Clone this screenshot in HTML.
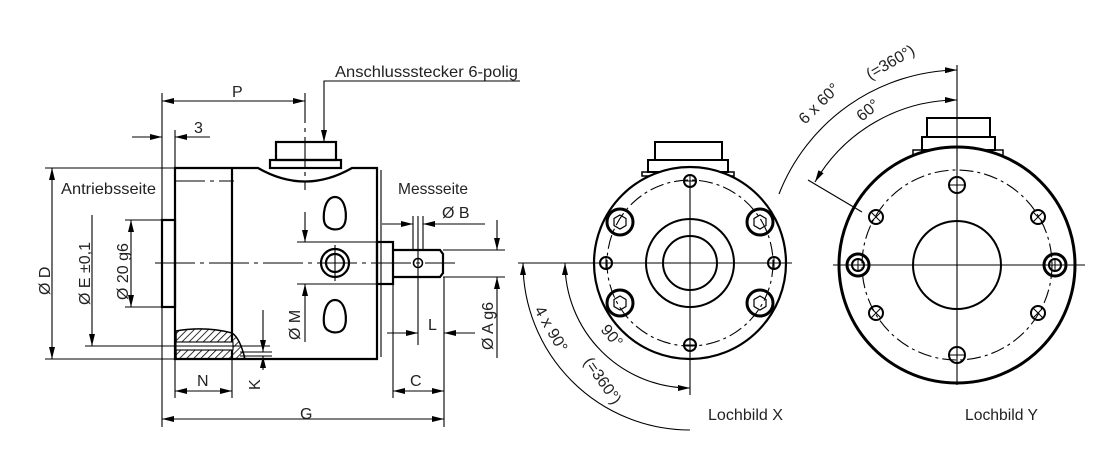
<!DOCTYPE html>
<html><head><meta charset="utf-8"><style>
html,body{margin:0;padding:0;background:#fff;}
svg{display:block;}
text{font-family:"Liberation Sans Narrow","Liberation Sans",sans-serif;font-size:16px;fill:#222;}
</style></head><body>
<svg width="1101" height="458" viewBox="0 0 1101 458" xmlns="http://www.w3.org/2000/svg">
<defs>
<marker id="a" viewBox="0 0 12 6" refX="12" refY="3" markerWidth="12" markerHeight="6" orient="auto-start-reverse" markerUnits="userSpaceOnUse"><path d="M0,0 L12,3 L0,6z" fill="#000"/></marker>
<pattern id="h" width="5" height="5" patternUnits="userSpaceOnUse" patternTransform="rotate(45)"><line x1="0" y1="0" x2="0" y2="5" stroke="#000" stroke-width="1.6"/></pattern>
</defs>
<g stroke="#000" fill="none" stroke-width="1.1">
<g stroke-width="2.2">
<path d="M175,168 L258,168 Q305,195 352,168 L377,168 L377,359 L175,359 Z"/>
<line x1="232" y1="168" x2="232" y2="359"/>
<rect x="162" y="220" width="13" height="87"/>
<rect x="270" y="160" width="71" height="8"/>
<rect x="276" y="142" width="60" height="18"/>
<rect x="377" y="242" width="16" height="42"/>
<path d="M393,250 L440,250 L443,254 L443,273 L440,277 L393,277"/>
<circle cx="335" cy="263" r="14"/>
<circle cx="335" cy="263" r="9"/>
<path d="M335,197 C324,197 322,218 325,224 C328,230 340,232 344,225 C348,218 346,197 335,197Z"/>
<path d="M335,300 C324,300 322,321 325,327 C328,333 340,335 344,328 C348,321 346,300 335,300Z"/>
</g>
<line x1="381" y1="170" x2="381" y2="357"/>
<line x1="175" y1="181" x2="234" y2="181" stroke-dasharray="30,5,4,5"/>
<line x1="155" y1="263" x2="455" y2="263" stroke-dasharray="40,5,4,5"/>
<line x1="305" y1="93" x2="305" y2="190" stroke-dasharray="30,5,4,5"/>
<line x1="335" y1="245" x2="335" y2="281"/>
<line x1="418" y1="216" x2="418" y2="345"/>
<circle cx="418" cy="263" r="4.5" stroke-width="1.6"/>
<path d="M176,331 Q205,326 232,333 Q240,338 245,359 L176,359 Z" fill="url(#h)" stroke="#000" stroke-width="1.5"/>
<rect x="176" y="342" width="57" height="8" fill="#fff" stroke="#000"/>
<line x1="176" y1="346" x2="240" y2="346" stroke-dasharray="10,4,3,4"/>
<line x1="45" y1="168" x2="175" y2="168"/><line x1="45" y1="359" x2="175" y2="359"/>
<line x1="52" y1="168" x2="52" y2="359" marker-start="url(#a)" marker-end="url(#a)"/>
<line x1="85" y1="346" x2="270" y2="346"/>
<line x1="92" y1="215" x2="92" y2="346" marker-end="url(#a)"/>
<line x1="125" y1="220" x2="162" y2="220"/><line x1="125" y1="307" x2="162" y2="307"/>
<line x1="131" y1="220" x2="131" y2="307" marker-start="url(#a)" marker-end="url(#a)"/>
<line x1="162" y1="93" x2="162" y2="427"/>
<line x1="175" y1="130" x2="175" y2="168"/>
<line x1="162" y1="101" x2="305" y2="101" marker-start="url(#a)" marker-end="url(#a)"/>
<line x1="132" y1="137" x2="162" y2="137" marker-end="url(#a)"/>
<line x1="210" y1="137" x2="175" y2="137" marker-end="url(#a)"/>
<path d="M520,81 L324,81 L324,142" marker-end="url(#a)"/>
<line x1="175" y1="359" x2="175" y2="398"/><line x1="232" y1="359" x2="232" y2="398"/>
<line x1="175" y1="391" x2="232" y2="391" marker-start="url(#a)" marker-end="url(#a)"/>
<line x1="240" y1="352" x2="272" y2="352"/><line x1="240" y1="356" x2="272" y2="356"/>
<line x1="263" y1="310" x2="263" y2="352" marker-end="url(#a)"/>
<line x1="263" y1="370" x2="263" y2="356" marker-end="url(#a)"/>
<line x1="297" y1="242" x2="393" y2="242"/><line x1="297" y1="284" x2="393" y2="284"/>
<line x1="305" y1="212" x2="305" y2="242" marker-end="url(#a)"/>
<line x1="305" y1="342" x2="305" y2="284" marker-end="url(#a)"/>
<line x1="413" y1="216" x2="413" y2="250"/><line x1="423" y1="216" x2="423" y2="250"/>
<line x1="382" y1="224" x2="413" y2="224" marker-end="url(#a)"/>
<line x1="485" y1="224" x2="423" y2="224" marker-end="url(#a)"/>
<line x1="443" y1="250" x2="505" y2="250"/><line x1="443" y1="277" x2="505" y2="277"/>
<line x1="497" y1="220" x2="497" y2="250" marker-end="url(#a)"/>
<line x1="497" y1="358" x2="497" y2="277" marker-end="url(#a)"/>
<line x1="387" y1="333" x2="418" y2="333" marker-end="url(#a)"/>
<line x1="475" y1="333" x2="444" y2="333" marker-end="url(#a)"/>
<line x1="393" y1="284" x2="393" y2="398"/>
<line x1="444" y1="277" x2="444" y2="427"/>
<line x1="393" y1="391" x2="444" y2="391" marker-start="url(#a)" marker-end="url(#a)"/>
<line x1="162" y1="419" x2="444" y2="419" marker-start="url(#a)" marker-end="url(#a)"/>

<rect x="655" y="142" width="67" height="18" stroke-width="2"/>
<rect x="648" y="160" width="80" height="12" stroke-width="2"/>
<rect x="642" y="172" width="92" height="4" stroke-width="1.5"/>
<circle cx="690" cy="263" r="96" fill="#fff" stroke-width="2.2"/>
<circle cx="690" cy="263" r="83" stroke-dasharray="14,4,3,4"/>
<circle cx="690" cy="263" r="44" stroke-width="2"/>
<circle cx="690" cy="263" r="27" stroke-width="2"/>
<line x1="518" y1="263" x2="792" y2="263"/>
<line x1="690" y1="180" x2="690" y2="395"/>
<g stroke-width="2">
<circle cx="690" cy="181" r="6"/><circle cx="690" cy="345" r="6"/>
<circle cx="606" cy="263" r="6"/><circle cx="774" cy="263" r="6"/>
<circle cx="620" cy="222" r="13" stroke-width="3"/><circle cx="760" cy="222" r="13" stroke-width="3"/>
<circle cx="620" cy="303" r="13" stroke-width="3"/><circle cx="760" cy="303" r="13" stroke-width="3"/>
</g>
<g stroke-width="1">
<path d="M684,181h12M690,175v12M684,345h12M690,339v12M600,263h12M606,257v12M768,263h12M774,257v12"/>
</g>
<g stroke-width="1.2">
<polygon points="620,215 626,218.5 626,225.5 620,229 614,225.5 614,218.5"/>
<polygon points="760,215 766,218.5 766,225.5 760,229 754,225.5 754,218.5"/>
<polygon points="620,296 626,299.5 626,306.5 620,310 614,306.5 614,299.5"/>
<polygon points="760,296 766,299.5 766,306.5 760,310 754,306.5 754,299.5"/>
</g>
<path d="M523,263 A167,167 0 0 0 690,430" marker-start="url(#a)"/>
<path d="M565,263 A125,125 0 0 0 690,388" marker-start="url(#a)" marker-end="url(#a)"/>

<rect x="927" y="118" width="63" height="19" stroke-width="2"/>
<rect x="922" y="137" width="73" height="13" stroke-width="2"/>
<rect x="913" y="150" width="90" height="7" stroke-width="1.5"/>
<circle cx="957" cy="265" r="118" fill="#fff" stroke-width="3"/>
<circle cx="957" cy="265" r="95" stroke-dasharray="14,4,3,4"/>
<circle cx="957" cy="265" r="44" stroke-width="2"/>
<line x1="833" y1="265" x2="1085" y2="265"/>
<line x1="957" y1="65" x2="957" y2="385"/>
<g stroke-width="2">
<circle cx="957" cy="185" r="8"/><circle cx="957" cy="355" r="8"/>
<circle cx="858" cy="265" r="11" stroke-width="3"/><circle cx="858" cy="265" r="6"/>
<circle cx="1055" cy="265" r="11" stroke-width="3"/><circle cx="1055" cy="265" r="6"/>
<circle cx="876" cy="217" r="7"/><circle cx="1038" cy="217" r="7"/>
<circle cx="876" cy="313" r="7"/><circle cx="1038" cy="313" r="7"/>
</g>
<g stroke-width="1">
<path d="M949,185h16M957,177v16M949,355h16M957,347v16M852,265h12M858,259v12M1049,265h12M1055,259v12"/>
<path d="M871,212l10,10M881,212l-10,10M1033,212l10,10M1043,212l-10,10M871,308l10,10M881,308l-10,10M1033,308l10,10M1043,308l-10,10"/>
</g>
<path d="M779,194 A195,195 0 0 1 957,70" marker-end="url(#a)"/>
<path d="M957,100 A165,165 0 0 0 815,182" marker-start="url(#a)" marker-end="url(#a)"/>
<line x1="808" y1="180" x2="862" y2="212"/>
</g>
<text x="335" y="77" textLength="183" lengthAdjust="spacingAndGlyphs">Anschlussstecker 6-polig</text>
<text x="232" y="97">P</text>
<text x="194" y="133">3</text>
<text x="61" y="194" textLength="95" lengthAdjust="spacingAndGlyphs">Antriebsseite</text>
<text x="398" y="194" textLength="70" lengthAdjust="spacingAndGlyphs">Messseite</text>
<text x="442" y="218">Ø B</text>
<text x="300" y="419">G</text>
<text x="197" y="386">N</text>
<text x="410" y="386">C</text>
<text x="428" y="330">L</text>
<text transform="translate(50,295) rotate(-90)">Ø D</text>
<text transform="translate(90,305) rotate(-90)">Ø E ±0,1</text>
<text transform="translate(128,300) rotate(-90)">Ø 20 g6</text>
<text transform="translate(300,340) rotate(-90)">Ø M</text>
<text transform="translate(493,350) rotate(-90)">Ø A g6</text>
<text transform="translate(260,390) rotate(-90)">K</text>
<text x="708" y="420" textLength="75" lengthAdjust="spacingAndGlyphs">Lochbild X</text>
<text x="965" y="420" textLength="73" lengthAdjust="spacingAndGlyphs">Lochbild Y</text>
<text transform="translate(534,310) rotate(60)">4 x 90°</text>
<text transform="translate(600,330) rotate(50)">90°</text>
<text transform="translate(583,362) rotate(55)">(=360°)</text>
<text transform="translate(805,125) rotate(-45)">6 x 60°</text>
<text transform="translate(870,80) rotate(-30)">(=360°)</text>
<text transform="translate(862,122) rotate(-40)">60°</text>
</svg>
</body></html>
